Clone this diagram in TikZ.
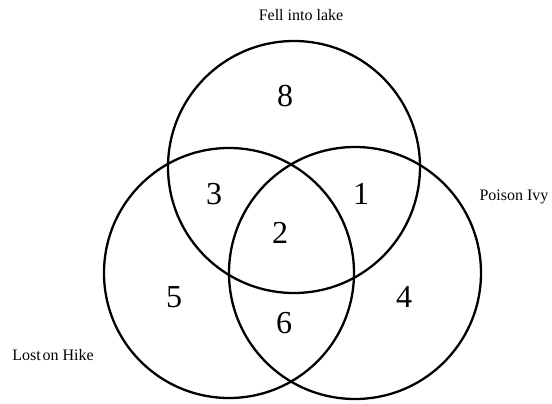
\documentclass[tikz,border=0pt]{standalone}
\usepackage{fontspec}
\setmainfont{Liberation Serif}
\begin{document}
\begin{tikzpicture}[x=1pt,y=-1pt,
  setcircle/.style={draw=black,line width=2.3pt},
  num/.style={font=\fontsize{32}{32}\selectfont,inner sep=0pt},
  lbl/.style={font=\fontsize{16}{17}\selectfont,inner sep=0pt}]
\useasboundingbox[fill=white] (0,0) rectangle (552,404);
\draw[setcircle] (294,167) circle[radius=126];
\draw[setcircle] (229,273) circle[radius=125];
\draw[setcircle] (355,273) circle[radius=126];
\node[lbl] (lake) at (301,15) {Fell into lake};
\node[lbl] (ivy) at (514,197) {Poison Ivy};
\node[lbl] (hike) at (53,355) {Lost\hspace{0.12em}on Hike};
\node[num] (n8) at (285,96) {8};
\node[num] (n3) at (214,194) {3};
\node[num] (n1) at (361,194) {1};
\node[num] (n2) at (280,233) {2};
\node[num] (n5) at (174,297) {5};
\node[num] (n4) at (404,297) {4};
\node[num] (n6) at (284,323) {6};
\end{tikzpicture}
\end{document}
